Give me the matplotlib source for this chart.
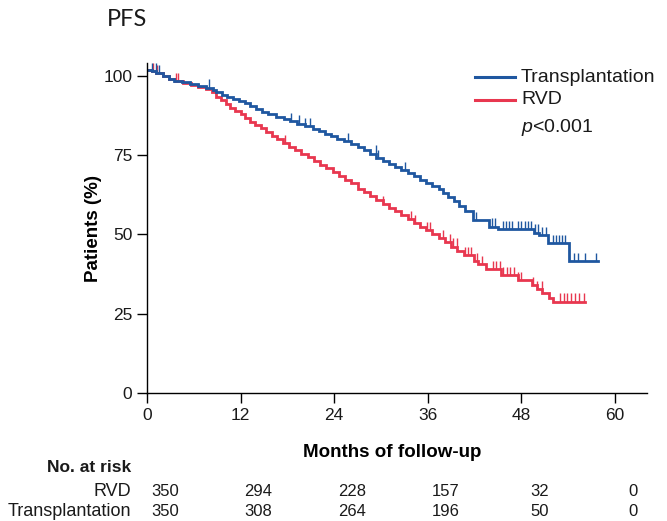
import numpy as np
import matplotlib

matplotlib.use("Agg")

import matplotlib.pyplot as plt

plt.rcParams["font.family"] = ["Liberation Sans", "DejaVu Sans"]
plt.rcParams["mathtext.fontset"] = "custom"
plt.rcParams["mathtext.it"] = "Liberation Sans:italic"
plt.rcParams["mathtext.rm"] = "Liberation Sans"
plt.rcParams["text.color"] = "#1a1a1a"

BLUE = "#1f57a0"
RED = "#e8374f"

# step curves (month, % event-free)
tx_times = [0, 0.6, 1.2, 2.0, 2.8, 3.4, 4.5, 5.5, 6.6, 7.5,
            8.4, 8.9, 9.6, 10.2, 11.0, 11.8, 12.5, 13.2, 14.0, 14.8,
            15.5, 16.5, 17.5, 18.3, 19.2, 20.2, 21.3, 22.0, 22.8, 23.6,
            24.4, 25.2, 26.2, 27.0, 27.8, 28.6, 29.4, 30.2, 31.0, 31.8,
            32.6, 33.4, 34.2, 35.0, 35.8, 36.6, 37.4, 38.0, 38.6, 39.3,
            40.0, 40.8, 41.8, 43.8, 45.0, 49.6, 50.2, 51.4, 54.1]
tx_surv = [102, 101.5, 100.8, 100, 99, 98.3, 98, 97.6, 97, 96.3,
           95.5, 94.8, 94, 93.3, 92.6, 92, 91.4, 90.5, 89.6, 88.8,
           88, 87.2, 86.5, 85.8, 85, 84.2, 83.3, 82.6, 81.8, 81,
           80.2, 79.5, 78.5, 77.5, 76.5, 75.5, 74.2, 73.2, 72.3, 71.3,
           70.3, 69.3, 68.3, 67.2, 66.3, 65.4, 64.5, 63.0, 61.8, 60.5,
           59.0, 57.5, 54.5, 52.5, 51.7, 50.6, 49.8, 47.3, 41.6]
tx_end = 57.8
tx_censor = [0.6, 1.1, 1.6, 8.0, 18.5, 19.5, 20.2, 20.9, 25.8, 29.3, 29.6, 33.1,
             42.2, 44.2, 44.6, 45.6, 46.0, 46.4, 46.8, 47.6, 48.0, 48.4, 48.8,
             49.2, 49.8, 50.1, 50.7, 51.2, 52.0, 52.4, 52.8, 53.2, 53.6, 54.8,
             55.2, 56.1, 57.6]

rvd_times = [0, 0.6, 1.2, 2.0, 2.8, 3.6, 4.6, 5.6, 6.6, 7.5,
             8.3, 8.9, 9.5, 10.1, 10.7, 11.3, 12.0, 12.6, 13.2, 13.9,
             14.6, 15.3, 16.0, 16.7, 17.4, 18.2, 19.0, 19.8, 20.6, 21.4,
             22.2, 23.0, 23.8, 24.6, 25.4, 26.2, 27.0, 27.8, 28.6, 29.4,
             30.2, 31.0, 31.8, 32.6, 33.4, 34.2, 35.0, 35.8, 36.6, 37.4,
             38.2, 39.0, 39.8, 40.6, 41.9, 42.4, 43.4, 45.4, 47.5, 49.3,
             50.0, 50.7, 51.5, 52.1]
rvd_surv = [102, 101.5, 100.8, 100, 99, 98.3, 97.8, 97.3, 96.6, 95.8,
            94.8, 93.5, 92.3, 91.2, 90, 89, 88, 86.8, 85.6, 84.6,
            83.6, 82.4, 81.2, 80, 78.8, 77.6, 76.5, 75.4, 74.3, 73.2,
            72, 70.9, 69.7, 68.5, 67.3, 66.1, 64.5, 63.3, 62.1, 60.9,
            59.7, 58.5, 57.3, 56.1, 54.9, 53.7, 52.5, 51.3, 50.0, 48.8,
            47.5, 46.2, 44.9, 43.6, 41.6, 40.6, 39.1, 37.2, 35.6, 34.0,
            32.8, 31.4, 30.0, 28.8]
rvd_end = 56.2
rvd_censor = [0.8, 1.3, 3.7, 4.0, 17.7, 30.2, 33.9, 34.3, 35.9, 36.3, 38.0, 38.8,
              39.2, 39.7, 40.8, 41.2, 41.6, 42.3, 42.9, 44.3, 44.7, 45.2, 45.6,
              46.1, 46.6, 47.0, 47.5, 48.0, 49.5, 50.0, 50.6, 52.9, 53.4, 53.9,
              54.4, 54.9, 55.4, 56.0]

risk_months = [0, 12, 24, 36, 48, 60]
risk_rvd = [350, 294, 228, 157, 32, 0]
risk_tx = [350, 308, 264, 196, 50, 0]

W, H = 667, 521
fig = plt.figure(figsize=(W / 100, H / 100), dpi=100)
ax = fig.add_axes([147 / W, 1 - 393 / H, 500 / W, 330 / H])


def draw_km(times, surv, end, censor, color):
    t = np.append(times, end)
    s = np.append(surv, surv[-1])
    ax.step(t, s, where="post", color=color, lw=2.0, solid_joinstyle="miter")
    idx = np.searchsorted(times, censor, side="right") - 1
    cy = np.array(surv)[idx]
    ax.vlines(censor, cy, cy + 2.6, color=color, lw=1.0)


draw_km(rvd_times, rvd_surv, rvd_end, rvd_censor, RED)
draw_km(tx_times, tx_surv, tx_end, tx_censor, BLUE)

ax.set_xlim(0, 64.1)
ax.set_ylim(0, 104.1)
ax.set_xticks(risk_months)
ax.set_yticks([0, 25, 50, 75, 100])
ax.spines["top"].set_visible(False)
ax.spines["right"].set_visible(False)
ax.spines["left"].set_linewidth(1.0)
ax.spines["bottom"].set_linewidth(1.0)
ax.tick_params(direction="out", length=7.5, width=1.0, labelsize=12.5, pad=3,
               labelcolor="#1a1a1a")

ax.set_xlabel("Months of follow-up", fontsize=13.5, fontweight="bold")
ax.xaxis.set_label_coords(0.49, -0.155)
ax.set_ylabel("Patients (%)", fontsize=13.5, fontweight="bold")
ax.yaxis.set_label_coords(-0.09, 0.5)

# legend
for name, color, yp in [("Transplantation", BLUE, 77), ("RVD", RED, 100)]:
    fig.add_artist(plt.Line2D([475 / W, 515 / W], [1 - yp / H, 1 - yp / H],
                              color=color, lw=2.2))
    fig.text(521 / W, 1 - yp / H, name, fontsize=14, va="center", ha="left")
fig.text(521 / W, 1 - 128 / H, r"$\mathit{p}$<0.001", fontsize=14, va="center", ha="left")

fig.text(107 / W, 1 - 20 / H, "PFS", fontsize=17, va="center", ha="left",
         family=["Lato", "DejaVu Sans"])

# risk table
fig.text(131 / W, 1 - 467 / H, "No. at risk", fontsize=12.5, fontweight="bold",
         ha="right", va="center")
for name, counts, yp in [("RVD", risk_rvd, 492), ("Transplantation", risk_tx, 511)]:
    fig.text(131 / W, 1 - yp / H, name, fontsize=13, ha="right", va="center")
    for m, n in zip(risk_months, counts):
        x_px = 147 + (m + 2.3) * 500 / 64.1
        fig.text(x_px / W, 1 - yp / H, str(n), fontsize=12, ha="center", va="center")

fig.savefig("out.png", dpi=100)
